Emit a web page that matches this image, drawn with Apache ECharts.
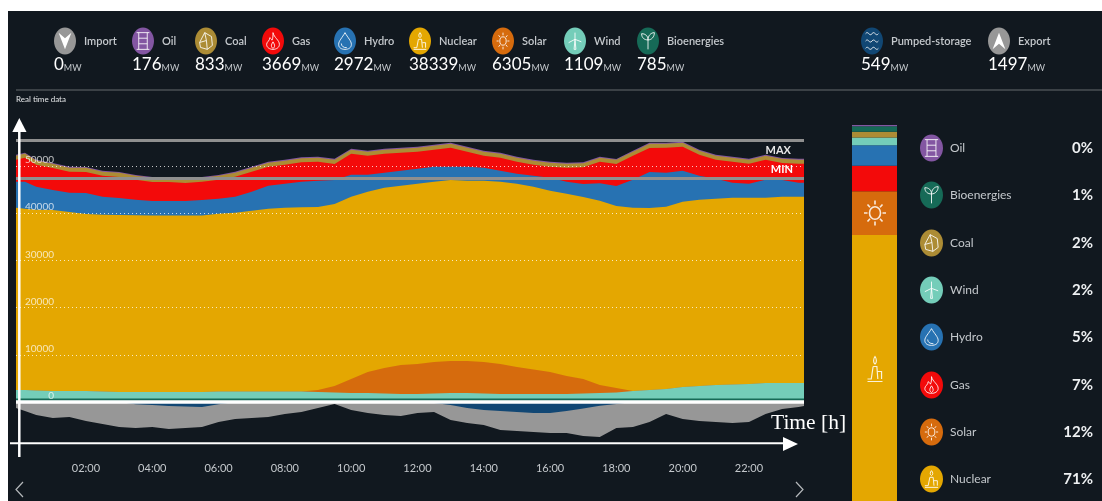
<!DOCTYPE html>
<html>
<head>
<meta charset="utf-8">
<title>Real time data</title>
<script src="https://cdn.jsdelivr.net/npm/echarts@6/dist/echarts.min.js"></script>
<style>
    html, body { margin: 0; padding: 0; background: #fff; overflow: hidden; }
    #panel { position: absolute; left: 8px; top: 11px; width: 1094px; height: 490px; background: #11181f; }
    #chart { position: absolute; left: 0; top: 0; width: 1102px; height: 501px; }
</style>
</head>
<body>
<div id="panel"></div>
<div id="chart"></div>
<script>
// header figures (MW)
const tileNames = ['Import', 'Oil', 'Coal', 'Gas', 'Hydro', 'Nuclear', 'Solar', 'Wind', 'Bioenergies', 'Pumped-storage', 'Export']
const tileValues = [0, 176, 833, 3669, 2972, 38339, 6305, 1109, 785, 549, 1497]

// right hand list, top to bottom
const shareNames = ['Oil', 'Bioenergies', 'Coal', 'Wind', 'Hydro', 'Gas', 'Solar', 'Nuclear']
const sharePercents = [0, 1, 2, 2, 5, 7, 12, 71]

// current mix bar, bottom to top
const mixNames = ['Nuclear', 'Solar', 'Gas', 'Hydro', 'Wind', 'Coal', 'Bioenergies', 'Oil']
const mixValues = [38339, 6305, 3669, 2972, 1109, 833, 785, 176]

// time of each sample, hours
const hours = [-0.11, 0.16, 0.5, 1, 1.5, 2, 2.5, 3, 3.5, 4, 4.5, 5, 5.5, 6, 6.5, 7, 7.5, 8, 8.5, 9, 9.5, 10, 10.5, 11, 11.5, 12,
    12.5, 13, 13.5, 14, 14.5, 15, 15.5, 16, 16.5, 17, 17.5, 18, 18.5, 19, 19.5, 20, 20.5, 21, 21.5, 22, 22.5, 23, 23.5, 23.66]

const bio = [760, 760, 750, 750, 750, 750, 750, 750, 750, 740, 740, 740, 740, 750, 750, 750, 750, 750, 750, 750, 750, 750, 750, 750, 750,
    750, 750, 750, 750, 750, 750, 750, 750, 750, 750, 750, 750, 750, 750, 750, 760, 760, 760, 760, 750, 750, 750, 750, 750, 750]
const wind = [1790, 1790, 1690, 1580, 1580, 1580, 1480, 1370, 1370, 1370, 1370, 1370, 1370, 1480, 1480, 1480, 1480, 1480, 1480, 1370, 1260, 1160, 1160, 1050, 950,
    950, 1050, 1160, 1160, 1050, 950, 950, 950, 950, 950, 1050, 1160, 1260, 1580, 1790, 2010, 2430, 2640, 2850, 2960, 3070, 3280, 3280, 3280, 3280]
const solar = [0, 0, 0, 0, 0, 0, 0, 0, 0, 0, 0, 0, 0, 0, 0, 0, 0, 0, 0, 420, 1380, 2970, 4450, 5410, 6150,
    6360, 6680, 6780, 6780, 6680, 6360, 5720, 5190, 4660, 3820, 3070, 1700, 950, 0, 0, 0, 0, 0, 0, 0, 0, 0, 0, 0, 0]
const nuclear = [38580, 38370, 38270, 38370, 37950, 37520, 37420, 37520, 37420, 37420, 37420, 37420, 37420, 37630, 37840, 38270, 38690, 38900, 39010, 38800, 38580, 38580, 38160, 38160, 37950,
    38160, 38160, 38370, 38160, 38370, 38580, 38800, 38690, 38370, 38580, 38580, 39010, 38580, 38800, 38580, 38580, 39220, 39430, 39430, 39540, 39430, 39220, 39430, 39430, 39430]
const hydro = [5510, 5720, 4880, 4240, 4030, 4450, 3820, 3600, 3290, 3070, 3070, 3070, 3290, 3180, 3390, 4030, 4880, 5090, 5410, 5510, 5090, 4660, 3600, 3180, 3180,
    3180, 3180, 2760, 2970, 2760, 2330, 2120, 2330, 2760, 2540, 2760, 3710, 4240, 5940, 7630, 7210, 6570, 5090, 4240, 3180, 2970, 3820, 3600, 2970, 2970]
const gas = [4660, 5090, 4660, 4660, 4450, 4450, 4450, 4450, 4240, 4030, 4030, 3820, 3820, 4030, 4240, 4240, 4030, 4030, 4130, 4030, 3390, 4450, 4030, 4030, 3820,
    3600, 3600, 4030, 3180, 2540, 2760, 2540, 2330, 2330, 2970, 3500, 4560, 4660, 5090, 5090, 5300, 5090, 4450, 4030, 4450, 4240, 4240, 3600, 4030, 4030]
const coal = [880, 900, 900, 880, 880, 880, 880, 880, 860, 860, 860, 860, 860, 860, 880, 880, 880, 880, 880, 880, 880, 880, 880, 880, 880,
    880, 880, 880, 880, 880, 880, 880, 880, 880, 880, 880, 880, 880, 880, 880, 880, 880, 880, 880, 880, 880, 880, 880, 880, 880]
const oil = [180, 180, 180, 180, 180, 180, 180, 180, 180, 180, 180, 180, 180, 180, 180, 180, 180, 180, 180, 180, 180, 180, 180, 180, 180,
    180, 180, 180, 180, 180, 180, 180, 180, 180, 180, 180, 180, 180, 180, 180, 180, 180, 180, 180, 180, 180, 180, 180, 180, 180]
const pumped = [0, 0, 0, 0, 0, 0, 0, 0, 500, 620, 850, 950, 1050, 500, 0, 0, 0, 0, 0, 0, 0, 0, 0, 0, 0,
    0, 200, 640, 1270, 1700, 1900, 2120, 2330, 2330, 1900, 1400, 800, 400, 0, 0, 0, 0, 0, 0, 0, 0, 0, 0, 0, 0]
const exported = [1270, 1910, 2760, 3390, 3180, 4030, 4660, 5300, 5010, 4680, 4870, 4560, 4250, 3740, 3600, 3390, 3180, 2540, 2120, 1270, 420, 1700, 2330, 2760, 2970,
    2330, 1920, 3180, 3180, 3180, 4040, 4030, 4030, 4240, 4670, 5810, 6620, 5110, 5300, 4240, 2540, 3600, 4030, 4240, 4450, 4240, 2540, 1480, 1060, 850]

const maxLevel = 55500
const minLevel = 47450

const colors = {
    Import: '#979797', Export: '#979797', Oil: '#8356a2', Coal: '#ac8c35', Gas: '#f30a0a', Hydro: '#2772b2', Nuclear: '#e4a701',
    Solar: '#d66b0d', Wind: '#74cdb9', Bioenergies: '#166a57', 'Pumped-storage': '#114774'
}

// left edge of each header tile
const tileX = [54, 132, 195, 262, 334, 409, 492, 564, 637, 861, 988]
const shareY = [148, 195, 243, 290, 337, 385, 432, 479]

const glyphs = {
    Import: 'M3 6L12 11L21 6L12 21Z',
    Export: 'M3 19L12 14L21 19L12 4Z',
    Oil: 'M6 3H18M6 21H18M8 3V21M16 3V21M8 9H16M8 15H16',
    Coal: 'M5 14L11 4L19 8L20 17L14 21L6 19ZM5 14L13 12L14 21M11 4L13 12',
    Gas: 'M12 2C13 8 18 11 18 16C18 20 15 22 12 22C9 22 6 20 6 16C6 13 9 12 9 8C10 9 11 10 11 11C12 9 12 6 12 2ZM12 21C10 19 10 17 12 13C14 17 14 19 12 21Z',
    Hydro: 'M12 2C15 8 19 12 19 16C19 20 16 22 12 22C8 22 5 20 5 16C5 12 9 8 12 2ZM8 15C8 18 10 20 14 20',
    Nuclear: 'M10 10L8 20H4M4 22H20M10 10H14L15 20M15 14H19V20M12 2C14 4 14 7 12 8C10 7 10 4 12 2Z',
    Solar: 'M12 6.5A5.5 5.5 0 1 0 12 17.5A5.5 5.5 0 1 0 12 6.5ZM12 1V4.5M12 19.5V23M1 12H4.5M19.5 12H23M4.5 4.5L7 7M17 17L19.5 19.5M4.5 19.5L7 17M17 7L19.5 4.5',
    Wind: 'M12 10L11 22H13ZM12 10L12 2M12 10L5 14M12 10L19 13',
    Bioenergies: 'M12 21V12C8 12 5 10 5 6C9 6 12 8 12 12C12 8 15 5 19 5C19 9 16 12 12 12',
    'Pumped-storage': 'M5 8C8 6 9 10 12 8C15 6 16 10 19 8M5 12C8 10 9 14 12 12C15 10 16 14 19 12M5 16C8 14 9 18 12 16C15 14 16 18 19 16'
}

const glyphNode = (name, cx, cy, w, h, width) => {
    const filled = name === 'Import' || name === 'Export'
    return {
        type: 'path',
        shape: { pathData: glyphs[name], layout: 'cover', x: cx - w / 2, y: cy - h / 2, width: w, height: h },
        style: filled ? { fill: '#fff' } : { fill: 'none', stroke: 'rgba(255,255,255,0.85)', lineWidth: width || 1 }
    }
}

const iconNode = (name, cx, cy, w, h) => ({
    type: 'group',
    children: [
        { type: 'ellipse', shape: { cx, cy, rx: w / 2, ry: h / 2 }, style: { fill: colors[name] } },
        glyphNode(name, cx, cy, w * 0.58, h * 0.62)
    ]
})

const textNode = (text, x, y, font, fill, align) => ({
    type: 'text',
    style: { x, y, text, font, fill, align: align || 'left', verticalAlign: 'middle' }
})

// everything around the two plots: tiles, list, icons
const overlay = []
tileNames.forEach((name, i) => {
    overlay.push(iconNode(name, tileX[i] + 11, 41, 22, 27))
    overlay.push(textNode(name, tileX[i] + 30, 41, '600 11px Lato', '#c4c8cc'))
    overlay.push({
        type: 'text',
        style: {
            x: tileX[i], y: 63,
            text: `{v|${tileValues[i]}}{u|MW}`,
            verticalAlign: 'middle',
            rich: {
                v: { fontSize: 17, fontFamily: 'Lato', fill: '#fff', verticalAlign: 'bottom', lineHeight: 20 },
                u: { fontSize: 9, fontFamily: 'Lato', fill: '#c4c8cc', verticalAlign: 'bottom', lineHeight: 18 }
            }
        }
    })
})
shareNames.forEach((name, i) => {
    overlay.push(iconNode(name, 931.5, shareY[i], 23, 27))
    overlay.push(textNode(name, 950, shareY[i], '12px Lato', '#c4c8cc'))
    overlay.push(textNode(sharePercents[i] + '%', 1093, shareY[i], 'bold 15px Lato', '#eef0f2', 'right'))
})
overlay.push(glyphNode('Solar', 875, 213, 22, 25, 1.6))
overlay.push(glyphNode('Nuclear', 875, 369, 15, 25, 1.2))
overlay.push(textNode('Real time data', 16, 99.5, '8px Lato', '#e4e6e8'))
overlay.push(textNode('Time [h]', 771, 423, '21.5px "Liberation Serif"', '#fff'))

const whiteLine = (x1, y1, x2, y2, width) => ({ type: 'line', shape: { x1, y1, x2, y2 }, style: { stroke: '#fff', lineWidth: width } })
const whiteHead = (points) => ({ type: 'polygon', shape: { points }, style: { fill: '#fff' } })
overlay.push({ type: 'line', shape: { x1: 16, y1: 90, x2: 1102, y2: 90 }, style: { stroke: '#4a4f54', lineWidth: 1.5 } })
overlay.push(whiteLine(19.3, 128, 19.3, 457, 2.5))
overlay.push(whiteHead([[19.3, 118], [26.5, 132], [12.3, 132]]))
overlay.push(whiteLine(10, 443.3, 786, 443.3, 2))
overlay.push(whiteHead([[798, 444], [783, 437], [783, 451]]))
overlay.push({ type: 'polyline', shape: { points: [[23, 482], [16, 489.5], [23, 497]] }, style: { fill: 'none', stroke: '#b5b8bb', lineWidth: 1.2 } })
overlay.push({ type: 'polyline', shape: { points: [[796, 482], [803, 489.5], [796, 497]] }, style: { fill: 'none', stroke: '#b5b8bb', lineWidth: 1.2 } })

// running totals, the value axis does not stack these samples correctly
const running = (layers, sign) => layers.map((_, n) =>
    hours.map((h, i) => [h, sign * layers.slice(0, n + 1).reduce((sum, layer) => sum + layer[i], 0)]))

const upNames = ['Bioenergies', 'Wind', 'Solar', 'Nuclear', 'Hydro', 'Gas', 'Coal', 'Oil']
const upTotals = running([bio, wind, solar, nuclear, hydro, gas, coal, oil], 1)
const downNames = ['Pumped-storage', 'Export']
const downTotals = running([pumped, exported], -1)

const areaSeries = (name, data) => ({
    name,
    type: 'line',
    data,
    showSymbol: false,
    symbol: 'none',
    lineStyle: { width: 0 },
    areaStyle: { color: colors[name], opacity: 1 },
    itemStyle: { color: colors[name] },
    z: 2
})

// tallest first so the lower layers paint over it
const upSeries = upNames.map((name, i) => areaSeries(name, upTotals[i])).reverse()
const downSeries = downNames.map((name, i) => areaSeries(name, downTotals[i])).reverse()

upSeries[0].markLine = {
    silent: true,
    symbol: 'none',
    animation: false,
    z: 8,
    data: [
        {
            yAxis: maxLevel,
            lineStyle: { color: '#8f8f8f', width: 3, type: 'solid' },
            label: { formatter: 'MAX', position: 'insideEndBottom', distance: 5, color: '#e6e6e6', fontFamily: 'Lato', fontSize: 11, fontWeight: 'bold', padding: [0, 8, 0, 0] }
        },
        {
            yAxis: minLevel,
            lineStyle: { color: '#8f8f8f', width: 3, type: 'solid' },
            label: { formatter: 'MIN', position: 'insideEndTop', distance: 3, color: '#fff', fontFamily: 'Lato', fontSize: 11, fontWeight: 'bold', padding: [0, 8, 0, 0] }
        },
        {
            yAxis: 0,
            lineStyle: { color: '#fff', width: 3.5, type: 'solid' },
            label: { show: false }
        }
    ]
}

const chart = echarts.init(document.getElementById('chart'))
chart.setOption({
    animation: false,
    grid: [
        { left: 16, right: 298, top: 118.8, bottom: 51.8 },
        { left: 852, width: 45, top: 125, height: 378 }
    ],
    xAxis: [
        {
            type: 'value',
            min: -0.11,
            max: 23.66,
            axisLine: { show: false },
            axisTick: { show: false },
            splitLine: { show: false },
            axisLabel: {
                customValues: [2, 4, 6, 8, 10, 12, 14, 16, 18, 20, 22],
                margin: 14,
                color: '#c4c8cc',
                fontFamily: 'Lato',
                fontSize: 11,
                formatter: v => String(v).padStart(2, '0') + ':00'
            }
        },
        { type: 'category', gridIndex: 1, data: ['mix'], show: false }
    ],
    yAxis: [
        {
            type: 'value',
            min: -10000,
            max: 60000,
            interval: 10000,
            z: 6,
            axisLine: { show: false },
            axisTick: { show: false },
            splitLine: {
                showMinLine: false,
                showMaxLine: false,
                lineStyle: { color: 'rgba(255,255,255,0.75)', type: [1, 3], width: 1 }
            },
            axisLabel: {
                inside: true,
                margin: 38,
                align: 'right',
                verticalAlign: 'bottom',
                padding: [0, 0, 1, 0],
                color: 'rgba(255,255,255,0.72)',
                fontFamily: 'Lato',
                fontSize: 10,
                showMinLabel: false,
                showMaxLabel: false,
                formatter: v => String(v)
            }
        },
        { type: 'value', gridIndex: 1, min: 0, max: 54188, show: false }
    ],
    series: [
        ...upSeries,
        ...downSeries,
        ...mixNames.map((name, i) => ({
            name: name + ' share',
            type: 'bar',
            xAxisIndex: 1,
            yAxisIndex: 1,
            stack: 'mix',
            barWidth: '100%',
            data: [mixValues[i]],
            itemStyle: { color: colors[name] }
        })),
        {
            type: 'custom',
            coordinateSystem: 'none',
            silent: true,
            z: 20,
            data: overlay.map((_, i) => i),
            renderItem: params => overlay[params.dataIndex]
        }
    ]
})
</script>
</body>
</html>
